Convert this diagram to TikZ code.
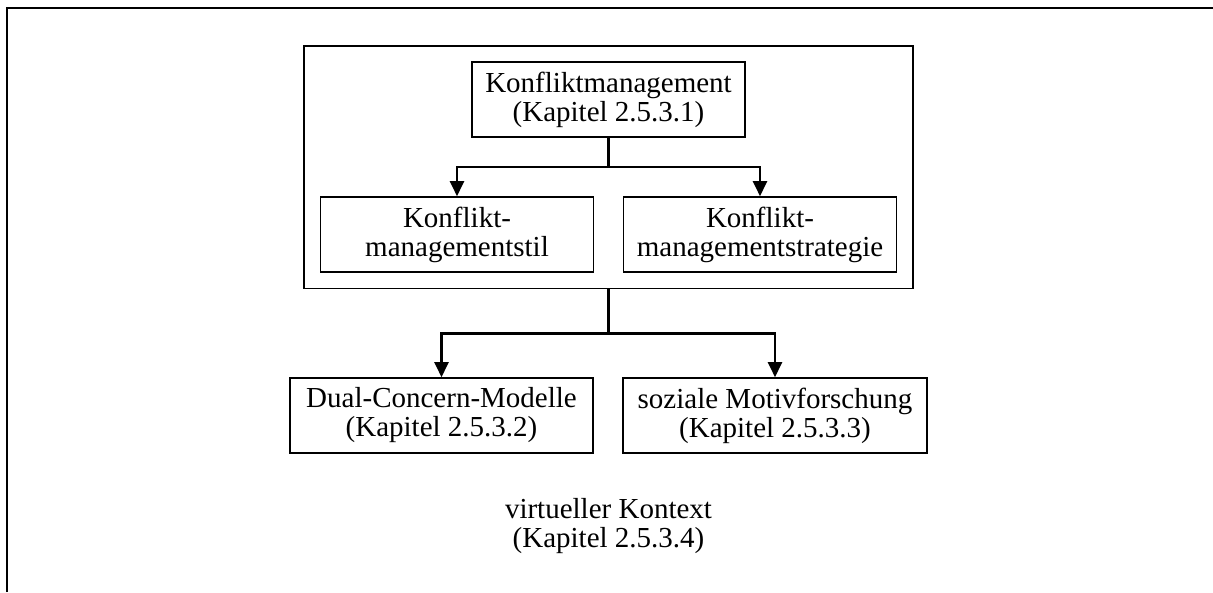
\documentclass[tikz,border=0pt]{standalone}
\usepackage{fontspec}
\setmainfont{Liberation Serif}
\usetikzlibrary{positioning,fit,arrows.meta}

\begin{document}
\begin{tikzpicture}[x=1pt,y=-1pt,>={Triangle[width=14pt,length=15pt]},on grid,
    kasten/.style={draw, line width=1.6pt, align=center, minimum width=273pt, minimum height=75pt, inner sep=0pt, font=\fontsize{29}{29}\selectfont},
    pfeil/.style={->, line width=2.3pt}]

                \useasboundingbox (0,0) rectangle (1213,592);
                \draw[line width=2.5pt] (7,592) -- (7,8) -- (1213,8);

                \node[kasten] (oben) at (608.5,99.5) {Konfliktmanagement\\(Kapitel 2.5.3.1)};
                \node[kasten] (stil) [below left=135pt and 151.5pt of oben] {Konflikt-\\managementstil};
                \node[kasten] (strategie) [below right=135pt and 151.5pt of oben] {Konflikt-\\managementstrategie};
                \node[draw, line width=1.6pt, inner sep=15.5pt, fit=(oben)(stil)(strategie)] (rahmen) {};

                \node[kasten, minimum width=303.5pt] (dual) at (441.5,415.5) {Dual-Concern-Modelle\\(Kapitel 2.5.3.2)};
                \node[kasten, minimum width=303.5pt] (motiv) at (775,415.5) {soziale Motivforschung\\(Kapitel 2.5.3.3)};
                \node[kasten, draw=none] (kontext) at (608.5,526) {virtueller Kontext\\(Kapitel 2.5.3.4)};

                \draw[pfeil] (oben.south) -- ++(0,29) -| (stil.north);
                \draw[pfeil] (oben.south) -- ++(0,29) -| (strategie.north);
                \draw[pfeil] (rahmen.south) -- ++(0,44.5) -| (dual.north);
                \draw[pfeil] (rahmen.south) -- ++(0,44.5) -| (motiv.north);
            \end{tikzpicture}
\end{document}
